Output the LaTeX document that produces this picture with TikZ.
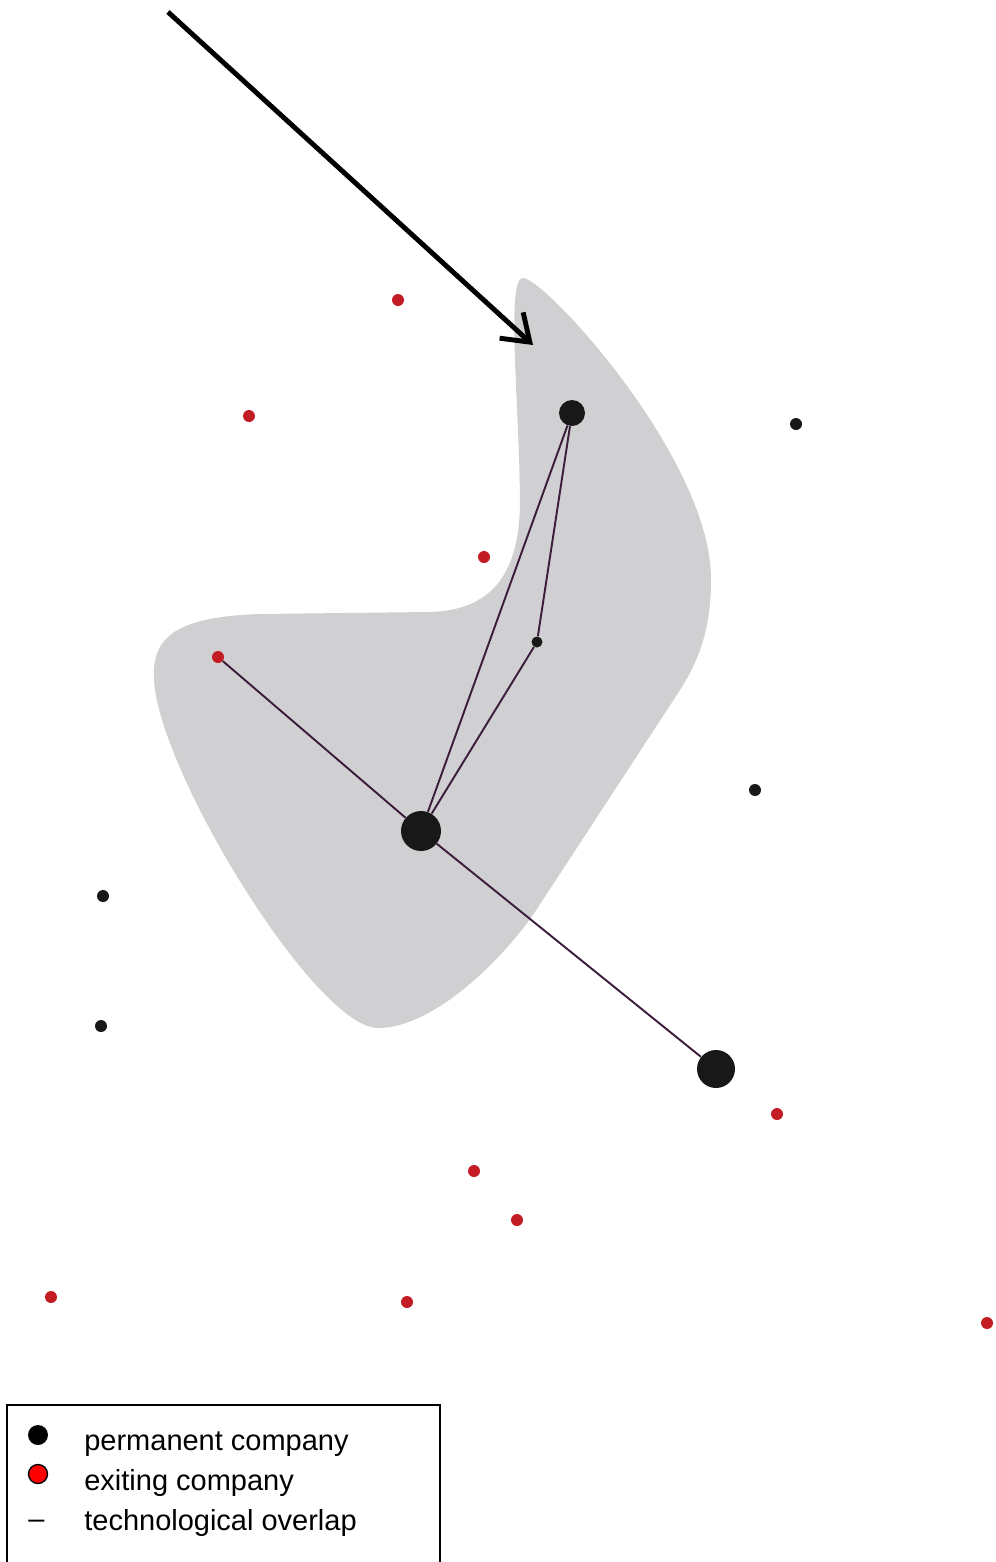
\documentclass[tikz,border=0pt]{standalone}
\usepackage{fontspec}
\setmainfont{Liberation Sans}
\usetikzlibrary{arrows.meta}
\definecolor{blobgray}{RGB}{208,208,210}
\definecolor{exitred}{RGB}{196,28,36}
\definecolor{keyred}{RGB}{255,0,0}
\definecolor{overlap}{RGB}{60,30,60}
\definecolor{ink}{RGB}{24,24,24}
\tikzset{
  firm/.style={circle, fill=ink, inner sep=0pt, minimum size=#1},
  firm/.default={0.24cm},
  exitfirm/.style={circle, fill=exitred, inner sep=0pt, minimum size=0.24cm},
  link/.style={draw=overlap, line width=1.1pt},
  pointer/.style={-{Straight Barb[length=5mm,width=7mm]}, line width=2.8pt},
  key/.style={anchor=base west, inner sep=0pt, font=\fontsize{16.5}{20}\selectfont}
}

\begin{document}
\begin{tikzpicture}[x=0.02cm, y=-0.02cm]
    \useasboundingbox (0,0) rectangle (995,1562);
    % technological neighbourhood
    \fill[blobgray] (523,278) .. controls (545,278) and (712,460) .. (711,580)
      .. controls (711,630) and (698,662) .. (680,690)
      -- (533,915) .. controls (495,968) and (430,1028) .. (378,1028)
      .. controls (318,1028) and (170,790) .. (155,690)
      .. controls (148,640) and (170,617) .. (260,614)
      -- (430,612) .. controls (495,610) and (520,570) .. (520,500)
      .. controls (519,400) and (506,278) .. (523,278) -- cycle;
    % pointer
    \coordinate (tail) at (168,12);
    \coordinate (tip) at (533,345);
    \draw[pointer] (tail) -- (tip);
    % companies
    \node[firm=0.52cm] (top) at (572,413) {};
    \node[firm=0.8cm] (core) at (421,831) {};
    \node[firm=0.76cm] (far) at (716,1069) {};
    \node[firm=0.22cm] (mid) at (537,642) {};
    \node[exitfirm] (lred) at (218,657) {};
    \foreach \x/\y [count=\i] in {796/424, 755/790, 103/896, 101/1026}
      \node[firm] (p\i) at (\x,\y) {};
    \foreach \x/\y [count=\i] in {398/300, 249/416, 484/557, 777/1114, 474/1171, 517/1220, 51/1297, 407/1302, 987/1323}
      \node[exitfirm] (e\i) at (\x,\y) {};
    % overlaps
    \draw[link] (top) -- (core);
    \draw[link] (top) -- (mid);
    \draw[link] (mid) -- (core);
    \draw[link] (lred) -- (core);
    \draw[link] (core) -- (far);
    % legend
    \draw[line width=0.8pt] (7,1580) -- (7,1405) -- (440,1405) -- (440,1580);
    \node[circle, fill=black, inner sep=0pt, minimum size=0.4cm] (kperm) at (38,1435) {};
    \node[circle, fill=keyred, draw=black, line width=0.8pt, inner sep=0pt, minimum size=0.38cm] (kexit) at (38,1474) {};
    \node[key] (kdash) at (28,1528) {--};
    \node[key] (tperm) at (84,1450) {permanent company};
    \node[key] (texit) at (84,1490) {exiting company};
    \node[key] (tover) at (84,1530) {technological overlap};
  \end{tikzpicture}
\end{document}
